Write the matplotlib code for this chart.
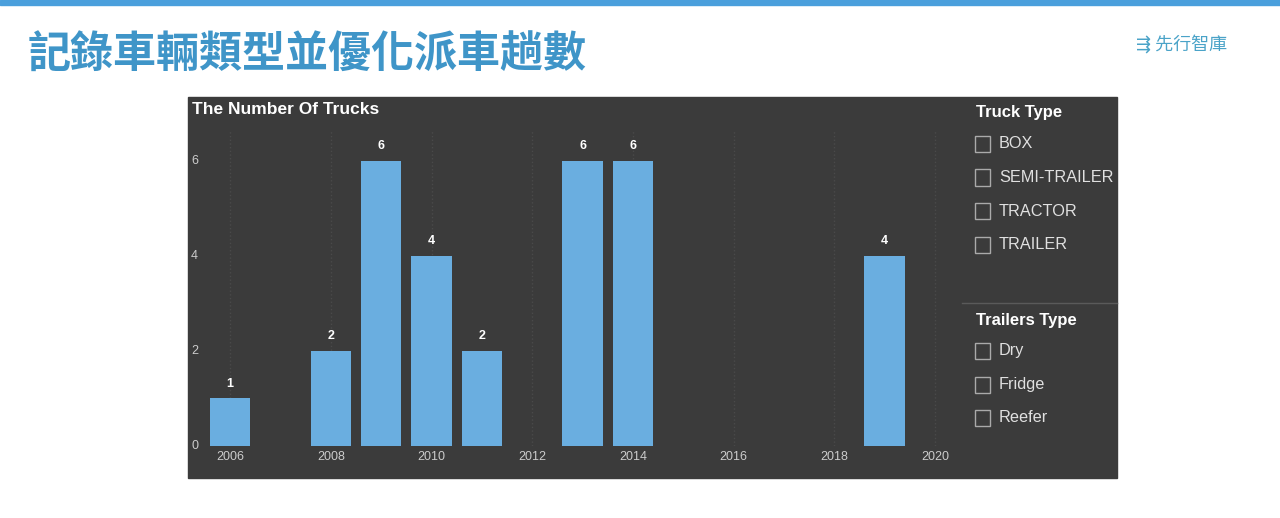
import matplotlib.pyplot as plt
from matplotlib.patches import Rectangle
from matplotlib.transforms import blended_transform_factory

plt.rcParams['font.family'] = ['Noto Sans CJK TC', 'DejaVu Sans']

years = [2006, 2008, 2009, 2010, 2011, 2013, 2014, 2019]
counts = [1, 2, 6, 4, 2, 6, 6, 4]
xticks = [2006, 2008, 2010, 2012, 2014, 2016, 2018, 2020]
yticks = [0, 2, 4, 6]
truck_types = ["BOX", "SEMI-TRAILER", "TRACTOR", "TRAILER"]
trailer_types = ["Dry", "Fridge", "Reefer"]

W, H = 1280, 518
fig = plt.figure(figsize=(12.8, 5.18), dpi=100)
fig.patch.set_facecolor("white")

def px(x, y, w, h):
    return [x / W, 1 - (y + h) / H, w / W, h / H]

# top blue strip
fig.add_artist(Rectangle((0, 1 - 5 / H), 1, 5 / H, transform=fig.transFigure, color="#4a9fdc"))
fig.text(28 / W, 1 - 55 / H, "記錄車輛類型並優化派車趟數", fontsize=31, fontweight="bold",
         color="#3f95c8", va="center")
fig.text(1136 / W, 1 - 45 / H, "⇶ 先行智庫", fontsize=13, color="#4aa3c8", va="center")

# dark panel
fig.add_artist(Rectangle((188 / W, 1 - 478 / H), 929 / W, 381 / H, transform=fig.transFigure,
                         color="#3b3b3b", zorder=0))
fig.text(192 / W, 1 - 110 / H, "The Number Of Trucks", fontsize=12.5, fontweight="bold",
         color="white", va="center", family="Liberation Sans")

ax = fig.add_axes(px(200, 130, 755, 316))
ax.set_facecolor("none")
ax.bar(years, counts, width=0.8, color="#6aaee0", zorder=2)
for x, v in zip(years, counts):
    ax.text(x, v + 0.18, str(v), ha="center", va="bottom", color="white",
            fontsize=9, fontweight="bold", family="Liberation Sans")
ax.set_xlim(2005.4, 2020.4)
ax.set_ylim(0, 6.65)
ax.set_xticks(xticks)
ax.set_yticks(yticks)
ax.set_yticklabels([])
ax.tick_params(colors="#cccccc", length=0, labelsize=9)
for lab in ax.get_xticklabels():
    lab.set_family("Liberation Sans")
tr = blended_transform_factory(fig.transFigure, ax.transData)
for t in yticks:
    ax.text(191 / W, t, str(t), transform=tr, color="#cccccc", fontsize=9,
            va="center", ha="left", family="Liberation Sans")
ax.grid(axis="x", color="#4a4a4a", linestyle=":", linewidth=1, zorder=1)
for s in ax.spines.values():
    s.set_visible(False)

# legend / slicers
def slicer(title, items, y0):
    fig.text(976 / W, 1 - y0 / H, title, fontsize=12, fontweight="bold", color="white",
             va="center", family="Liberation Sans")
    for i, it in enumerate(items):
        y = y0 + 31 + i * 33.5
        fig.add_artist(Rectangle((975 / W, 1 - (y + 8) / H), 15 / W, 16 / H,
                                 transform=fig.transFigure, fill=False, edgecolor="#aaaaaa", lw=1))
        fig.text(999 / W, 1 - y / H, it, fontsize=11.7, color="#e0e0e0", va="center",
                 family="Liberation Sans")

slicer("Truck Type", truck_types, 113)
fig.add_artist(plt.Line2D([962 / W, 1117 / W], [1 - 303 / H] * 2, color="#5a5a5a", lw=1))
slicer("Trailers Type", trailer_types, 320)

fig.savefig("out.png", dpi=100)
